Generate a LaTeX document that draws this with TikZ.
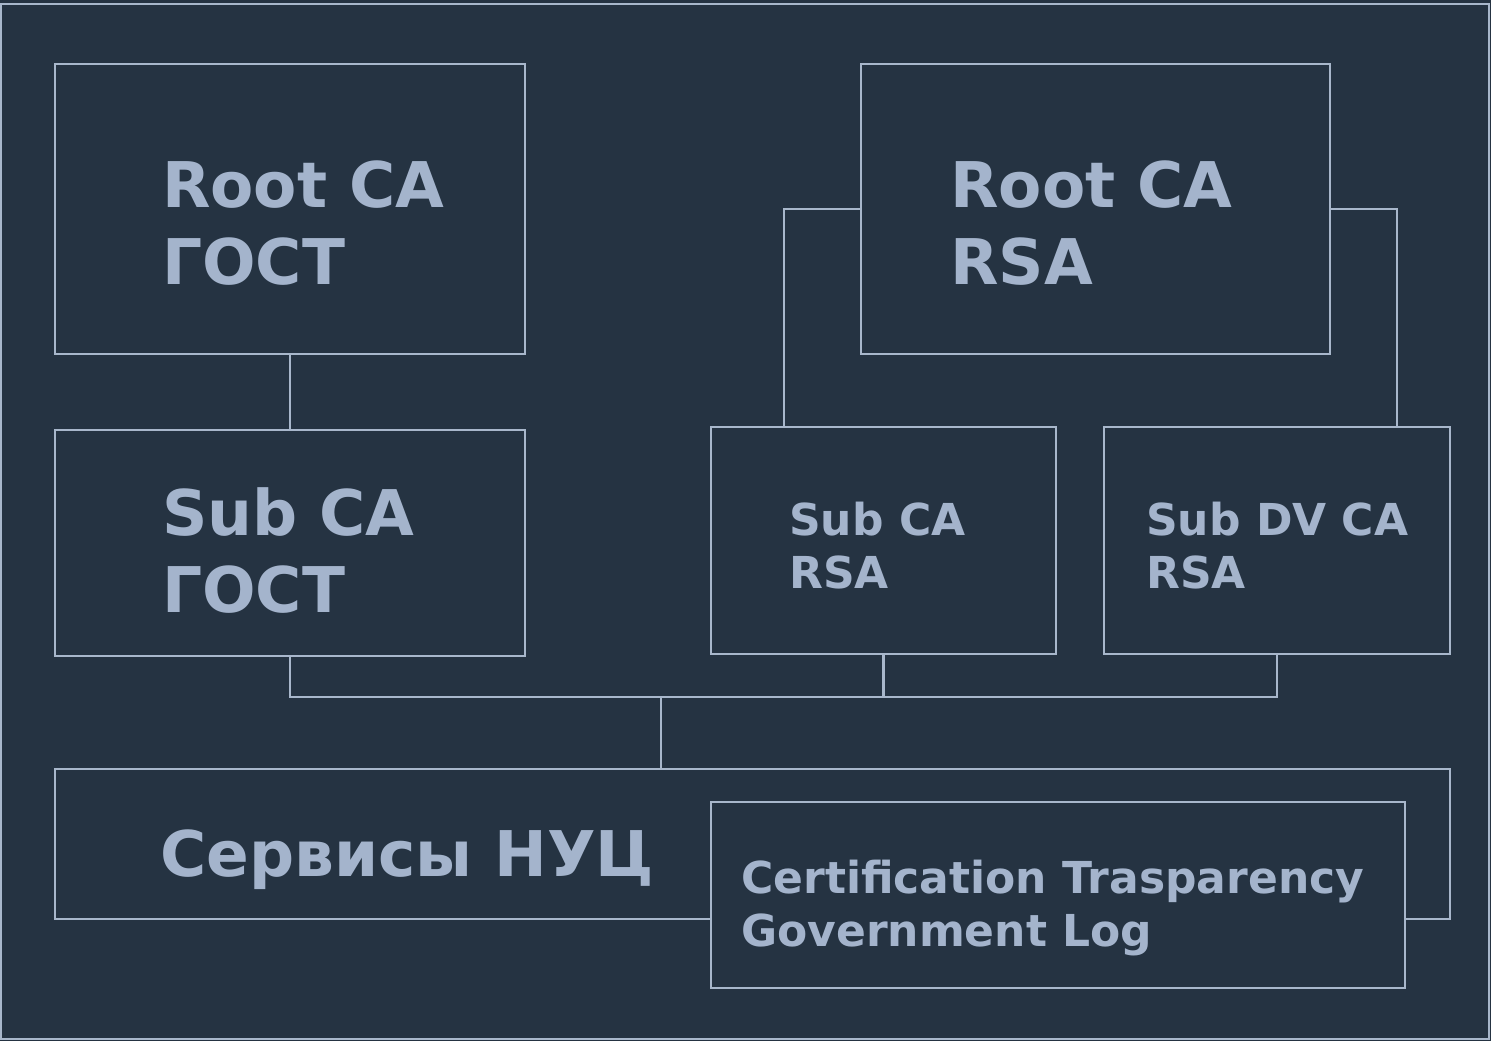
\documentclass[tikz,border=0pt]{standalone}
\usepackage{fontspec}
\setmainfont{DejaVu Sans}
\definecolor{bgc}{HTML}{253342}
\definecolor{linec}{HTML}{A8B7CB}
\definecolor{txtc}{HTML}{A4B4CC}
\tikzset{
  box/.style={draw=linec, line width=2.4pt, fill=bgc, rectangle, inner sep=0pt},
  conn/.style={draw=linec, line width=2.4pt},
  bigtxt/.style={anchor=base west, align=left, inner sep=0pt, text=txtc, font=\bfseries\fontsize{63}{77}\selectfont},
  midtxt/.style={anchor=base west, align=left, inner sep=0pt, text=txtc, font=\bfseries\fontsize{44}{53}\selectfont},
}
\begin{document}
\begin{tikzpicture}[x=1pt, y=-1pt]
\useasboundingbox (0,0) rectangle (1491,1041);
\fill[bgc] (0,0) rectangle (1491,1041);
\draw[linec, line width=2.4pt] (1,4) rectangle (1489,1039);
% boxes
\node[box, minimum width=470pt, minimum height=290pt] (rg) at (290,209) {};
\node[box, minimum width=470pt, minimum height=226pt] (sg) at (290,543) {};
\node[box, minimum width=469pt, minimum height=290pt] (rr) at (1095.5,209) {};
\node[box, minimum width=345pt, minimum height=227pt] (sr) at (883.5,540.5) {};
\node[box, minimum width=346pt, minimum height=227pt] (sd) at (1277,540.5) {};
\node[box, minimum width=1395pt, minimum height=150pt] (svc) at (752.5,844) {};
\node[box, minimum width=694pt, minimum height=186pt] (ct) at (1058,895) {};
% connectors
\coordinate (bus) at (661,697);
\draw[conn] (rg.south) -- (sg.north);
\draw[conn] (rr.west) -| ([xshift=-99.5pt]sr.north);
\draw[conn] (rr.east) -| ([xshift=120pt]sd.north);
\draw[conn] (sg.south) |- (bus);
\draw[conn] (sd.south) |- (bus);
\draw[conn] (sr.south) -- (sr.south |- bus);
\draw[conn] (bus) -- (bus |- svc.north);
% texts (base anchor = last line baseline)
\node[bigtxt] (trg) at (162,284) {Root CA\\ГОСТ};
\node[bigtxt] (tsg) at (162,612) {Sub CA\\ГОСТ};
\node[bigtxt] (trr) at (950,284) {Root CA\\RSA};
\node[midtxt] (tsr) at (789,588) {Sub CA\\RSA};
\node[midtxt] (tsd) at (1146,588) {Sub DV CA\\RSA};
\node[bigtxt] (tsvc) at (160,876) {Сервисы НУЦ};
\node[midtxt] (tct) at (741,946) {Certification Trasparency\\Government Log};
\end{tikzpicture}
\end{document}
